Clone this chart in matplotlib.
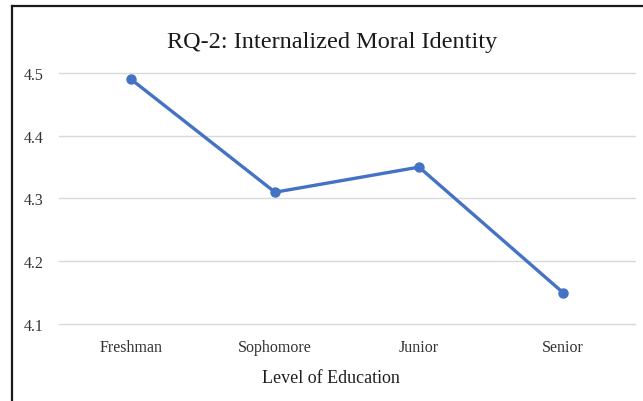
import matplotlib
matplotlib.use("Agg")
import matplotlib.pyplot as plt
from matplotlib.lines import Line2D

# Mean internalized moral identity score by class level
levels = ["Freshman", "Sophomore", "Junior", "Senior"]
scores = [4.49, 4.31, 4.35, 4.15]
y_ticks = [4.1, 4.2, 4.3, 4.4, 4.5]

plt.rcParams["font.family"] = ["Liberation Serif", "DejaVu Serif"]

fig = plt.figure(figsize=(6.43, 4.02), dpi=100)
ax = fig.add_axes([0.0918, 0.1915, 0.8958, 0.6245])

x = list(range(len(levels)))
ax.plot(x, scores, color="#4472C4", linewidth=2.4, marker="o",
        markersize=6.5, solid_capstyle="round", zorder=3)

ax.set_xlim(-0.5, len(levels) - 0.5)
ax.set_ylim(y_ticks[0], y_ticks[-1])
ax.set_yticks(y_ticks)
ax.set_yticklabels([f"{t:.1f}" for t in y_ticks])
ax.set_xticks(x)
ax.set_xticklabels(levels)

ax.grid(axis="y", color="#D9D9D9", linewidth=1.0)
for gl in ax.get_ygridlines():
    gl.set_clip_on(False)
ax.set_axisbelow(True)
for s in ax.spines.values():
    s.set_visible(False)
ax.tick_params(axis="both", length=0, labelsize=11.5, colors="#333333")
ax.tick_params(axis="x", pad=11)
ax.tick_params(axis="y", pad=11)

fig.text(0.514, 1 - 379 / 402, "Level of Education", ha="center",
         va="center", fontsize=13, color="#1f1f1f")
fig.text(0.517, 0.895, "RQ-2: Internalized Moral Identity", ha="center",
         va="center", fontsize=17.5, color="#1a1a1a")

# Frame edges along the left and top of the chart area
fig.add_artist(Line2D([12 / 643, 12 / 643], [0, 1 - 7 / 402],
                      transform=fig.transFigure, color="#1a1a1a", linewidth=1.6))
fig.add_artist(Line2D([12 / 643, 1], [1 - 7 / 402, 1 - 7 / 402],
                      transform=fig.transFigure, color="#1a1a1a", linewidth=1.6))

fig.savefig("out.png", dpi=100)
